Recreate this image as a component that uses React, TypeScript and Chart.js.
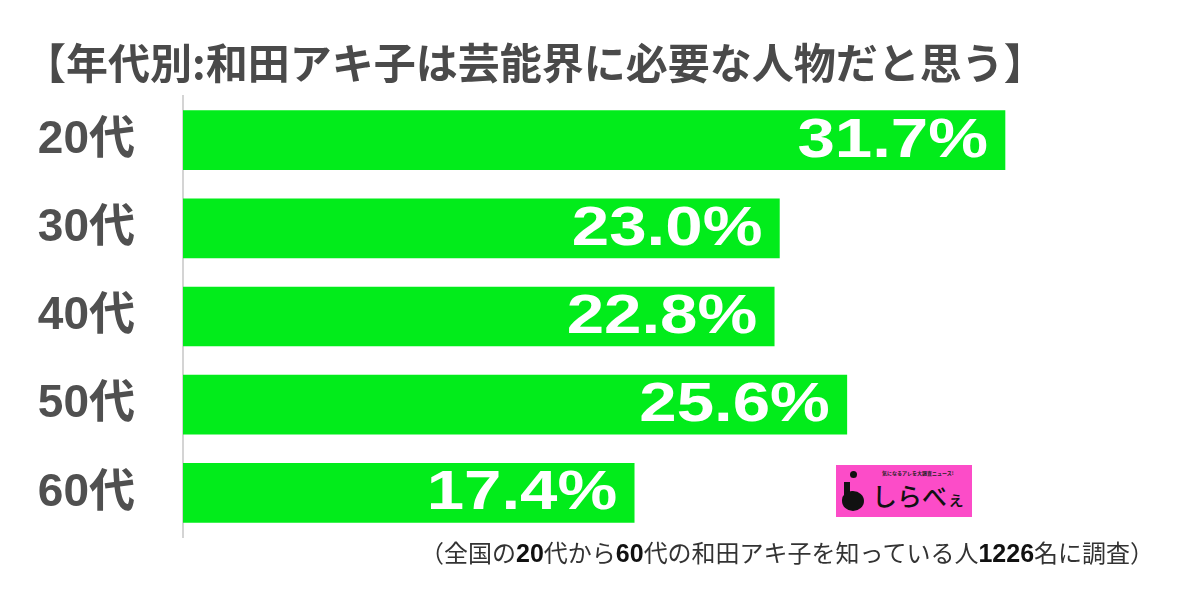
import React, { useEffect, useRef } from 'react';
import { Chart, registerables } from 'chart.js';

Chart.register(...registerables);

const categories = ['20代', '30代', '40代', '50代', '60代'];
const values = [31.7, 23.0, 22.8, 25.6, 17.4];
const axisMax = 35;
const titleText = '【年代別:和田アキ子は芸能界に必要な人物だと思う】';
const footParts: [string, boolean][] = [
  ['（全国の', false],
  ['20', true],
  ['代から', false],
  ['60', true],
  ['代の和田アキ子を知っている人', false],
  ['1226', true],
  ['名に調査）', false],
];

const valueLabelPlugin = {
  id: 'valueLabels',
  afterDatasetsDraw(chart: any) {
    const ctx = chart.ctx;
    const meta = chart.getDatasetMeta(0);
    ctx.save();
    ctx.fillStyle = '#ffffff';
    ctx.font = 'bold 56px "Liberation Sans", Arial, sans-serif';
    ctx.textAlign = 'right';
    ctx.textBaseline = 'middle';
    meta.data.forEach((el: any, i: number) => {
      const v = chart.data.datasets[0].data[i] as number;
      ctx.save();
      ctx.translate(el.x - 17, el.y + 1);
      ctx.scale(1.2, 1);
      ctx.fillText(v.toFixed(1) + '%', 0, 0);
      ctx.restore();
    });
    ctx.restore();
  },
};

export default function App() {
  const ref = useRef<HTMLCanvasElement | null>(null);
  useEffect(() => {
    if (!ref.current) return;
    const chart = new Chart(ref.current, {
      type: 'bar',
      data: {
        labels: categories,
        datasets: [
          {
            data: values,
            backgroundColor: '#02ec1b',
            borderWidth: 0,
            barThickness: 59,
          },
        ],
      },
      options: {
        indexAxis: 'y',
        responsive: false,
        animation: false,
        layout: { padding: { top: 96, bottom: 52, left: 0, right: 1200 - (183 + axisMax * 25.93) } },
        plugins: { legend: { display: false }, tooltip: { enabled: false } },
        scales: {
          x: { min: 0, max: axisMax, display: false },
          y: {
            type: 'category',
            grid: { display: false },
            border: { display: true, color: '#d4d4d4', width: 2 },
            ticks: {
              color: '#505050',
              padding: 40,
              font: { family: '"Liberation Sans", "Noto Sans CJK JP", sans-serif', size: 46, weight: 'bold' },
            },
            afterFit: (s: any) => {
              s.width = 183;
              s.paddingTop = 0;
              s.paddingBottom = 0;
            },
          },
        },
      },
      plugins: [valueLabelPlugin],
    });
    return () => chart.destroy();
  }, []);

  return (
    <div style={{ position: 'absolute', left: 0, top: 0, width: 1200, height: 589, background: '#fff', overflow: 'hidden' }}>
      <canvas ref={ref} width={1200} height={589} style={{ position: 'absolute', left: 0, top: 0, width: 1200, height: 589 }} />
      <div
        style={{
          position: 'absolute',
          left: 24,
          top: 32,
          font: 'bold 42px "Noto Sans CJK JP", sans-serif',
          color: '#4a4a4a',
          whiteSpace: 'nowrap',
          lineHeight: '58px',
        }}
      >
        {titleText}
      </div>
      <div
        style={{
          position: 'absolute',
          left: 420,
          top: 536,
          font: '24px "Noto Sans CJK JP", sans-serif',
          color: '#333',
          whiteSpace: 'nowrap',
          lineHeight: '32px',
        }}
      >
        {footParts.map(([t, b], i) => (
          <span key={i} style={b ? { fontWeight: 'bold', color: '#111', fontFamily: '"Liberation Sans", Arial, sans-serif', fontSize: 25 } : undefined}>
            {t}
          </span>
        ))}
      </div>
      <div
        style={{
          position: 'absolute',
          left: 836,
          top: 465,
          width: 136,
          height: 52,
          background: '#fc4cc8',
          overflow: 'hidden',
        }}
      >
        <div style={{ position: 'absolute', left: 14, top: 6, width: 7, height: 7, borderRadius: '50%', background: '#111' }} />
        <div style={{ position: 'absolute', left: 8, top: 17, width: 6, height: 14, background: '#111' }} />
        <div style={{ position: 'absolute', left: 6, top: 26, width: 22, height: 20, borderRadius: '45% 50% 50% 50%', background: '#111' }} />
        <div
          style={{
            position: 'absolute',
            left: 46,
            top: 4,
            font: 'bold 5px "Noto Sans CJK JP", sans-serif',
            color: '#222',
            whiteSpace: 'nowrap',
            lineHeight: '7px',
          }}
        >
          気になるアレを大調査ニュース!
        </div>
        <div
          style={{
            position: 'absolute',
            left: 36,
            top: 13,
            font: '500 25px "Noto Sans CJK JP", sans-serif',
            color: '#111',
            whiteSpace: 'nowrap',
            lineHeight: '34px',
          }}
        >
          しらべ<span style={{ fontSize: 18 }}>ぇ</span>
        </div>
      </div>
    </div>
  );
}
